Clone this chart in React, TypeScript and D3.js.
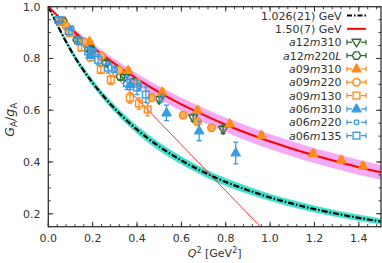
import React from 'react';
import * as d3 from 'd3';

// Q^2 grid for the fitted curves (GeV^2) and the curve values
const qGrid = [0, 0.1, 0.2, 0.3, 0.4, 0.5, 0.6, 0.7, 0.8, 0.9, 1.0, 1.1, 1.2, 1.3, 1.4, 1.5];
const dipole1026 = [1, 0.834, 0.706, 0.606, 0.525, 0.460, 0.406, 0.361, 0.323, 0.291, 0.263, 0.239, 0.218, 0.200, 0.184, 0.170];
const dipole1026Lo = [1, 0.827, 0.696, 0.593, 0.511, 0.445, 0.392, 0.347, 0.309, 0.278, 0.251, 0.227, 0.207, 0.189, 0.174, 0.160];
const dipole1026Hi = [1, 0.841, 0.716, 0.618, 0.539, 0.474, 0.420, 0.374, 0.336, 0.304, 0.275, 0.251, 0.230, 0.211, 0.195, 0.180];
const dipole150 = [1, 0.917, 0.843, 0.779, 0.721, 0.669, 0.623, 0.582, 0.544, 0.510, 0.479, 0.451, 0.425, 0.402, 0.380, 0.360];
const dipole150Lo = [1, 0.909, 0.830, 0.761, 0.700, 0.646, 0.598, 0.555, 0.517, 0.482, 0.451, 0.423, 0.397, 0.374, 0.352, 0.333];
const dipole150Hi = [1, 0.924, 0.856, 0.795, 0.740, 0.691, 0.647, 0.607, 0.570, 0.537, 0.506, 0.478, 0.452, 0.429, 0.407, 0.387];
// slope at Q^2 = 0 of the 1.50 GeV curve
const tangentQ = [0, 1.0];
const tangentV = [1, 0.111];

// lattice data: Q^2, G_A/g_A, error
const a12m310Q = [0.18, 0.345, 0.50, 0.653, 0.788];
const a12m310V = [0.835, 0.728, 0.641, 0.571, 0.526];
const a12m310E = [0.008, 0.010, 0.012, 0.014, 0.016];

const a12m220LQ = [0.066, 0.13, 0.195, 0.26, 0.325, 0.385];
const a12m220LV = [0.945, 0.872, 0.835, 0.782, 0.730, 0.708];
const a12m220LE = [0.006, 0.008, 0.009, 0.010, 0.012, 0.014];

const a09m310Q = [0.186, 0.36, 0.514, 0.673, 0.818, 0.961, 1.194, 1.321, 1.419];
const a09m310V = [0.866, 0.754, 0.671, 0.600, 0.548, 0.503, 0.433, 0.408, 0.385];
const a09m310E = [0.008, 0.010, 0.010, 0.012, 0.012, 0.012, 0.012, 0.012, 0.012];

const a09m220Q = [0.08, 0.16, 0.24, 0.32, 0.40, 0.466, 0.608, 0.673, 0.736];
const a09m220V = [0.925, 0.865, 0.810, 0.755, 0.705, 0.648, 0.581, 0.555, 0.532];
const a09m220E = [0.008, 0.008, 0.009, 0.010, 0.012, 0.013, 0.010, 0.010, 0.012];

const a09m130Q = [0.056, 0.098, 0.150, 0.191, 0.237, 0.282, 0.368, 0.409, 0.448];
const a09m130V = [0.941, 0.898, 0.842, 0.805, 0.757, 0.718, 0.648, 0.626, 0.603];
const a09m130E = [0.010, 0.012, 0.012, 0.015, 0.015, 0.018, 0.020, 0.022, 0.025];

const a06m310Q = [0.19, 0.37, 0.533, 0.68, 0.845];
const a06m310V = [0.812, 0.700, 0.590, 0.520, 0.435];
const a06m310E = [0.012, 0.020, 0.030, 0.038, 0.042];

const a06m220Q = [0.105, 0.205, 0.30, 0.41, 0.511];
const a06m220V = [0.917, 0.828, 0.757, 0.692, 0.648];
const a06m220E = [0.008, 0.010, 0.012, 0.014, 0.016];

const a06m135Q = [0.046, 0.092, 0.137, 0.18, 0.225, 0.27, 0.355, 0.40, 0.44];
const a06m135V = [0.948, 0.905, 0.868, 0.828, 0.795, 0.765, 0.705, 0.688, 0.660];
const a06m135E = [0.010, 0.012, 0.015, 0.018, 0.020, 0.022, 0.025, 0.028, 0.030];

const xMajor = [0, 0.2, 0.4, 0.6, 0.8, 1.0, 1.2, 1.4];
const yMajor = [0.2, 0.4, 0.6, 0.8, 1.0];

const W = 382;
const H = 263;
const left = 48.3, right = 381, top = 6.7, bottom = 226.7;

const GREEN = '#2f7030';
const ORANGE = '#ff8c1a';
const BLUE = '#3a9be0';
const FONT = 'DejaVu Sans, sans-serif';

type Shape = 'tri' | 'tridown' | 'square' | 'circle' | 'smallcircle' | 'hex';

interface Series {
  name: [string, boolean][];
  q: number[]; v: number[]; e: number[];
  color: string; shape: Shape; filled: boolean;
}

const series: Series[] = [
  { name: [['a', true], ['12', false], ['m', true], ['310', false]], q: a12m310Q, v: a12m310V, e: a12m310E, color: GREEN, shape: 'tridown', filled: false },
  { name: [['a', true], ['12', false], ['m', true], ['220', false], ['L', true]], q: a12m220LQ, v: a12m220LV, e: a12m220LE, color: GREEN, shape: 'hex', filled: false },
  { name: [['a', true], ['09', false], ['m', true], ['310', false]], q: a09m310Q, v: a09m310V, e: a09m310E, color: ORANGE, shape: 'tri', filled: true },
  { name: [['a', true], ['09', false], ['m', true], ['220', false]], q: a09m220Q, v: a09m220V, e: a09m220E, color: ORANGE, shape: 'circle', filled: true },
  { name: [['a', true], ['09', false], ['m', true], ['130', false]], q: a09m130Q, v: a09m130V, e: a09m130E, color: ORANGE, shape: 'square', filled: false },
  { name: [['a', true], ['06', false], ['m', true], ['310', false]], q: a06m310Q, v: a06m310V, e: a06m310E, color: BLUE, shape: 'tri', filled: true },
  { name: [['a', true], ['06', false], ['m', true], ['220', false]], q: a06m220Q, v: a06m220V, e: a06m220E, color: BLUE, shape: 'smallcircle', filled: false },
  { name: [['a', true], ['06', false], ['m', true], ['135', false]], q: a06m135Q, v: a06m135V, e: a06m135E, color: BLUE, shape: 'square', filled: false },
];

function Marker({ shape, x, y, color, filled, inLegend }: { shape: Shape; x: number; y: number; color: string; filled: boolean; inLegend?: boolean }) {
  const fill = filled ? color : 'none';
  const sw = 1.4;
  if (shape === 'circle')
    return <circle cx={x} cy={y} r={3.7} fill={inLegend ? '#fff' : '#ffb060'} stroke={color} strokeWidth={1.6} />;
  if (shape === 'smallcircle') return <circle cx={x} cy={y} r={2.4} fill="none" stroke={color} strokeWidth={1.3} />;
  if (shape === 'square') return <rect x={x - 3.4} y={y - 3.4} width={6.8} height={6.8} fill="none" stroke={color} strokeWidth={sw} />;
  let pts: [number, number][];
  if (shape === 'tri') pts = [[x, y - 4.8], [x + 4.5, y + 2.9], [x - 4.5, y + 2.9]];
  else if (shape === 'tridown') pts = [[x, y + 4.8], [x + 4.5, y - 2.9], [x - 4.5, y - 2.9]];
  else pts = d3.range(6).map(i => [x + 4.2 * Math.cos(Math.PI / 3 * i), y + 4.2 * Math.sin(Math.PI / 3 * i)] as [number, number]);
  return <polygon points={pts.map(p => p.join(',')).join(' ')} fill={fill} stroke={color} strokeWidth={sw} strokeLinejoin="round" />;
}

export default function App() {
  const x = d3.scaleLinear().domain([0, 1.5]).range([left, right]);
  const y = d3.scaleLinear().domain([0.15, 1.0]).range([bottom, top]);

  const line = (vals: number[]) =>
    d3.line<number>().x((_, i) => x(qGrid[i])).y(d => y(d)).curve(d3.curveNatural)(vals) || '';
  const band = (lo: number[], hi: number[]) =>
    d3.area<number>().x((_, i) => x(qGrid[i])).y0((_, i) => y(lo[i])).y1(d => y(d)).curve(d3.curveNatural)(hi) || '';

  const xMinor = d3.range(0, 1.5001, 0.04);
  const yMinor = d3.range(0.15, 1.0001, 0.05);

  const axisColor = '#333';
  const legendX = 341.5;
  const keyX0 = 347, keyX1 = 366;
  const rowY = (i: number) => 15.5 + i * 13.35;

  return (
    <svg width={W} height={H} style={{ position: 'absolute', left: 0, top: 0, background: '#fff' }} fontFamily={FONT}>
      <defs>
        <clipPath id="plot">
          <rect x={left} y={top} width={right - left} height={bottom - top} />
        </clipPath>
      </defs>
      <g clipPath="url(#plot)">
        <path d={band(dipole1026Lo, dipole1026Hi)} fill="#3fe0cc" stroke="#3fe0cc" strokeWidth={0.8} />
        <path d={band(dipole150Lo, dipole150Hi)} fill="#f6a9f4" stroke="#f6a9f4" strokeWidth={0.8} />
        <path d={line(dipole1026)} fill="none" stroke="#000" strokeWidth={2.2} strokeDasharray="6,2,1.5,2" />
        <path d={line(dipole150)} fill="none" stroke="#ff0000" strokeWidth={2} />
        <line x1={x(tangentQ[0])} y1={y(tangentV[0])} x2={x(tangentQ[1])} y2={y(tangentV[1])} stroke="#ff0000" strokeWidth={0.8} />
        {series.map((s, si) => (
          <g key={si}>
            {s.q.map((q, i) => {
              const cx = x(q), cy = y(s.v[i]);
              const y0 = y(s.v[i] - s.e[i]), y1 = y(s.v[i] + s.e[i]);
              return (
                <g key={i}>
                  <line x1={cx} x2={cx} y1={y0} y2={y1} stroke={s.color} strokeWidth={1.3} />
                  <line x1={cx - 2.5} x2={cx + 2.5} y1={y0} y2={y0} stroke={s.color} strokeWidth={1.3} />
                  <line x1={cx - 2.5} x2={cx + 2.5} y1={y1} y2={y1} stroke={s.color} strokeWidth={1.3} />
                  <Marker shape={s.shape} x={cx} y={cy} color={s.color} filled={s.filled} />
                </g>
              );
            })}
          </g>
        ))}
      </g>

      {/* frame and ticks */}
      <rect x={left} y={top} width={right - left} height={bottom - top} fill="none" stroke={axisColor} strokeWidth={1.3} />
      {xMinor.map((t, i) => (
        <g key={'xm' + i} stroke={axisColor} strokeWidth={1}>
          <line x1={x(t)} x2={x(t)} y1={bottom} y2={bottom - 2.5} />
          <line x1={x(t)} x2={x(t)} y1={top} y2={top + 2.5} />
        </g>
      ))}
      {xMajor.map((t, i) => (
        <g key={'xM' + i}>
          <line x1={x(t)} x2={x(t)} y1={bottom} y2={bottom - 5} stroke={axisColor} strokeWidth={1} />
          <line x1={x(t)} x2={x(t)} y1={top} y2={top + 5} stroke={axisColor} strokeWidth={1} />
          <text x={x(t)} y={242} textAnchor="middle" fontSize={11} fill="#333">{d3.format('.1f')(t)}</text>
        </g>
      ))}
      {yMinor.map((t, i) => (
        <g key={'ym' + i} stroke={axisColor} strokeWidth={1}>
          <line x1={left} x2={left + 2.5} y1={y(t)} y2={y(t)} />
          <line x1={right} x2={right - 2.5} y1={y(t)} y2={y(t)} />
        </g>
      ))}
      {yMajor.map((t, i) => (
        <g key={'yM' + i}>
          <line x1={left} x2={left + 5} y1={y(t)} y2={y(t)} stroke={axisColor} strokeWidth={1} />
          <line x1={right} x2={right - 5} y1={y(t)} y2={y(t)} stroke={axisColor} strokeWidth={1} />
          <text x={40.5} y={y(t) + 4} textAnchor="end" fontSize={11} fill="#333">{d3.format('.1f')(t)}</text>
        </g>
      ))}

      {/* axis titles */}
      <text x={(left + right) / 2} y={257} textAnchor="middle" fontSize={11} fill="#333">
        <tspan fontStyle="italic">Q</tspan>
        <tspan dy={-4} fontSize={8}>2</tspan>
        <tspan dy={4}> [GeV</tspan>
        <tspan dy={-4} fontSize={8}>2</tspan>
        <tspan dy={4}>]</tspan>
      </text>
      <text transform={`translate(14, ${(top + bottom) / 2 + 3}) rotate(-90)`} textAnchor="middle" fontSize={12.5} fill="#333">
        <tspan fontStyle="italic">G</tspan>
        <tspan dy={3} fontSize={9}>A</tspan>
        <tspan dy={-3}>/</tspan>
        <tspan fontStyle="italic">g</tspan>
        <tspan dy={3} fontSize={9}>A</tspan>
      </text>

      {/* legend */}
      <text x={legendX} y={rowY(0) + 4} textAnchor="end" fontSize={11} fill="#333">1.026(21) GeV</text>
      <line x1={keyX0} x2={keyX1} y1={rowY(0)} y2={rowY(0)} stroke="#000" strokeWidth={2} strokeDasharray="5,2,1.5,2" />
      <text x={legendX} y={rowY(1) + 4} textAnchor="end" fontSize={11} fill="#333">1.50(7) GeV</text>
      <line x1={keyX0} x2={keyX1} y1={rowY(1)} y2={rowY(1)} stroke="#ff0000" strokeWidth={2} />
      {series.map((s, si) => {
        const ry = rowY(si + 2);
        const cx = (keyX0 + keyX1) / 2;
        return (
          <g key={'lg' + si}>
            <text x={legendX} y={ry + 4} textAnchor="end" fontSize={11} fill="#333">
              {s.name.map(([t, it], k) => (
                <tspan key={k} fontStyle={it ? 'italic' : 'normal'}>{t}</tspan>
              ))}
            </text>
            <line x1={keyX0} x2={keyX1} y1={ry} y2={ry} stroke={s.color} strokeWidth={1.3} />
            <line x1={keyX0} x2={keyX0} y1={ry - 2.5} y2={ry + 2.5} stroke={s.color} strokeWidth={1.3} />
            <line x1={keyX1} x2={keyX1} y1={ry - 2.5} y2={ry + 2.5} stroke={s.color} strokeWidth={1.3} />
            <rect x={cx - 4.5} y={ry - 4.5} width={9} height={9} fill="#fff" />
            <Marker shape={s.shape} x={cx} y={cy(ry)} color={s.color} filled={s.filled} inLegend />
          </g>
        );
      })}
    </svg>
  );
}

function cy(v: number) {
  return v;
}
